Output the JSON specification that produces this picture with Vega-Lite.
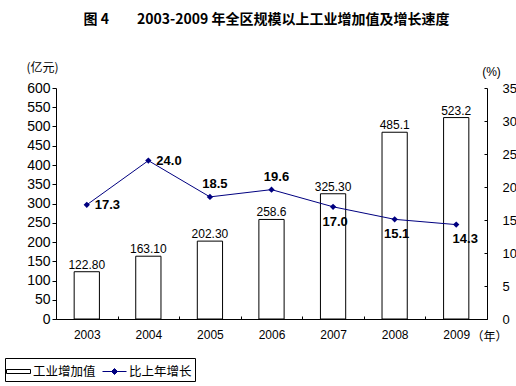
{
  "$schema": "https://vega.github.io/schema/vega-lite/v6.json",
  "width": 431,
  "height": 231,
  "autosize": {"type": "none"},
  "padding": {"left": 56, "top": 88, "right": 29, "bottom": 67},
  "background": "white",
  "title": {
    "text": "图 4　　2003-2009 年全区规模以上工业增加值及增长速度",
    "font": "Noto Sans CJK SC",
    "fontSize": 14,
    "fontWeight": "bold",
    "color": "black",
    "anchor": "middle",
    "dx": -5,
    "offset": 34
  },
  "config": {
    "view": {"stroke": null},
    "axis": {"grid": false, "domainColor": "black", "tickColor": "black", "labelColor": "black", "titleColor": "black"}
  },
  "data": {
    "values": [
      {"year": "2003", "value": 122.8, "label": "122.80", "growth": 17.3, "glabel": "17.3"},
      {"year": "2004", "value": 163.1, "label": "163.10", "growth": 24.0, "glabel": "24.0"},
      {"year": "2005", "value": 202.3, "label": "202.30", "growth": 18.5, "glabel": "18.5"},
      {"year": "2006", "value": 258.6, "label": "258.6", "growth": 19.6, "glabel": "19.6"},
      {"year": "2007", "value": 325.3, "label": "325.30", "growth": 17.0, "glabel": "17.0"},
      {"year": "2008", "value": 485.1, "label": "485.1", "growth": 15.1, "glabel": "15.1"},
      {"year": "2009", "value": 523.2, "label": "523.2", "growth": 14.3, "glabel": "14.3"}
    ]
  },
  "layer": [
    {
      "encoding": {
        "x": {
          "field": "year",
          "type": "ordinal",
          "scale": {"paddingInner": 0, "paddingOuter": 0},
          "axis": {
            "labelAngle": 0,
            "labelFont": "Liberation Sans",
            "labelFontSize": 12,
            "labelPadding": 13,
            "tickBand": "extent",
            "tickSize": -3,
            "title": "（年）",
            "titleFont": "Noto Sans CJK SC",
            "titleFontSize": 12,
            "titleFontWeight": "normal",
            "titleX": 415,
            "titleY": 21,
            "titleAlign": "left",
            "titleBaseline": "alphabetic"
          }
        },
        "y": {
          "field": "value",
          "type": "quantitative",
          "scale": {"domain": [0, 600], "nice": false},
          "axis": {
            "values": [0, 50, 100, 150, 200, 250, 300, 350, 400, 450, 500, 550, 600],
            "labelFont": "Liberation Sans",
            "labelFontSize": 14,
            "tickSize": 4,
            "labelPadding": 2,
            "title": "(亿元)",
            "titleFont": "Noto Sans CJK SC",
            "titleFontSize": 12,
            "titleFontWeight": "normal",
            "titleAngle": 0,
            "titleX": -14,
            "titleY": -17,
            "titleAlign": "center",
            "titleBaseline": "alphabetic"
          }
        }
      },
      "layer": [
        {
          "mark": {"type": "bar", "fill": "white", "stroke": "black", "strokeWidth": 1, "width": {"band": 0.41}}
        },
        {
          "mark": {"type": "text", "font": "Liberation Sans", "fontSize": 12, "color": "black", "baseline": "alphabetic", "dy": -3},
          "encoding": {"text": {"field": "label"}}
        }
      ]
    },
    {
      "encoding": {
        "x": {"field": "year", "type": "ordinal"},
        "y": {
          "field": "growth",
          "type": "quantitative",
          "scale": {"domain": [0, 35], "nice": false},
          "axis": {
            "orient": "right",
            "values": [0, 5, 10, 15, 20, 25, 30, 35],
            "labelFont": "Liberation Sans",
            "labelFontSize": 13,
            "tickSize": -3,
            "labelPadding": 18,
            "title": "(%)",
            "titleFont": "Liberation Sans",
            "titleFontSize": 12,
            "titleFontWeight": "normal",
            "titleAngle": 0,
            "titleX": 4,
            "titleY": -13,
            "titleAlign": "center",
            "titleBaseline": "alphabetic"
          }
        }
      },
      "layer": [
        {
          "mark": {"type": "line", "color": "#000080", "strokeWidth": 1}
        },
        {
          "mark": {"type": "point", "shape": "diamond", "filled": true, "color": "#000080", "size": 40, "opacity": 1}
        },
        {
          "transform": [{"filter": {"field": "year", "oneOf": ["2003", "2004"]}}],
          "mark": {"type": "text", "font": "Liberation Sans", "fontSize": 13, "fontWeight": "bold", "color": "black", "align": "left", "baseline": "middle", "dx": 8},
          "encoding": {"text": {"field": "glabel"}}
        },
        {
          "transform": [{"filter": {"field": "year", "oneOf": ["2005", "2006"]}}],
          "mark": {"type": "text", "font": "Liberation Sans", "fontSize": 13, "fontWeight": "bold", "color": "black", "align": "center", "baseline": "alphabetic", "dx": 5, "dy": -9},
          "encoding": {"text": {"field": "glabel"}}
        },
        {
          "transform": [{"filter": {"field": "year", "oneOf": ["2007", "2008"]}}],
          "mark": {"type": "text", "font": "Liberation Sans", "fontSize": 13, "fontWeight": "bold", "color": "black", "align": "center", "baseline": "top", "dx": 2, "dy": 9},
          "encoding": {"text": {"field": "glabel"}}
        },
        {
          "transform": [{"filter": {"field": "year", "oneOf": ["2009"]}}],
          "mark": {"type": "text", "font": "Liberation Sans", "fontSize": 13, "fontWeight": "bold", "color": "black", "align": "center", "baseline": "top", "dx": 9, "dy": 8},
          "encoding": {"text": {"field": "glabel"}}
        }
      ]
    },
    {
      "data": {"values": [{"series": "工业增加值"}, {"series": "比上年增长"}]},
      "mark": {"type": "point", "opacity": 0, "strokeWidth": 1},
      "encoding": {
        "shape": {
          "field": "series",
          "type": "nominal",
          "scale": {"domain": ["工业增加值", "比上年增长"], "range": ["M-1.2,-0.2H1.2V0.2H-1.2Z", "M-1.2,0H1.2M0,-0.3L0.3,0L0,0.3L-0.3,0Z"]},
          "legend": {
            "title": null,
            "orient": "none",
            "legendX": -51,
            "legendY": 270,
            "direction": "horizontal",
            "strokeColor": "black",
            "padding": 3,
            "symbolSize": 400,
            "symbolOpacity": 1,
            "symbolStrokeWidth": 1,
            "labelFont": "Noto Sans CJK SC",
            "labelFontSize": 12.5,
            "labelColor": "black",
            "labelOffset": 4,
            "columnPadding": 4
          }
        },
        "stroke": {
          "field": "series",
          "type": "nominal",
          "scale": {"domain": ["工业增加值", "比上年增长"], "range": ["#000000", "#000080"]}
        },
        "fill": {
          "field": "series",
          "type": "nominal",
          "scale": {"domain": ["工业增加值", "比上年增长"], "range": ["#ffffff", "#000080"]}
        }
      }
    }
  ],
  "resolve": {"scale": {"y": "independent"}}
}
